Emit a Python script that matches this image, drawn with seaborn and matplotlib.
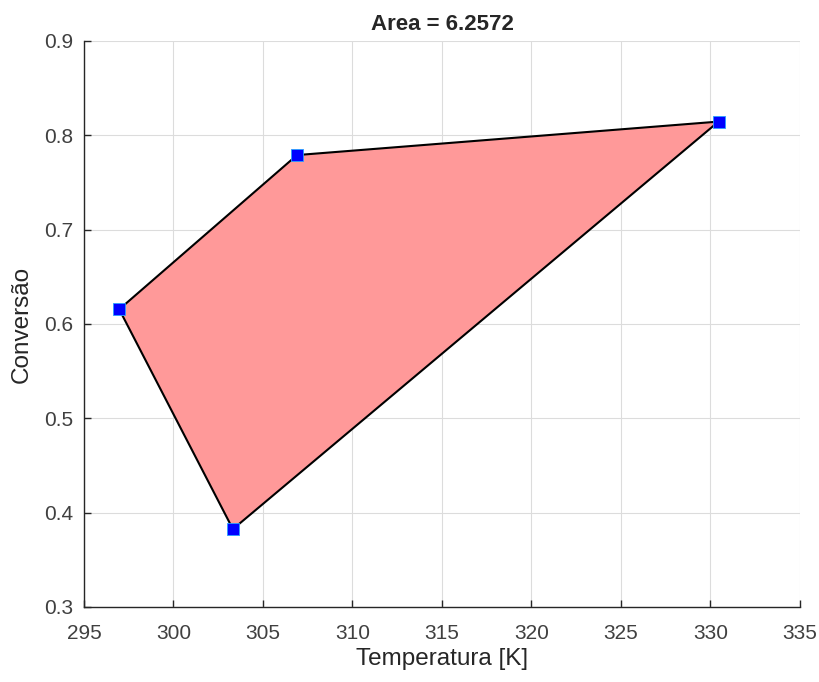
import numpy as np
import pandas as pd
import matplotlib
matplotlib.use('Agg')
import matplotlib.pyplot as plt
import seaborn as sns

# polygon vertices (Temperatura [K], Conversão)
temperatura = [296.97, 306.9, 330.45, 303.32]
conversao = [0.6155, 0.779, 0.8145, 0.3825]
area = 6.2572

xticks = list(range(295, 340, 5))
yticks = [0.3, 0.4, 0.5, 0.6, 0.7, 0.8, 0.9]

sns.set_style('white')
plt.rcParams['font.family'] = ['Liberation Sans', 'DejaVu Sans']

df = pd.DataFrame({'T': temperatura, 'X': conversao})

fig = plt.figure(figsize=(8.2, 6.82), dpi=100)
ax = fig.add_axes([0.1024, 0.110, 0.8732, 0.830])

# filled polygon with outline
ax.fill(df['T'], df['X'], facecolor=(1, 0.6, 0.6), edgecolor='black', linewidth=1.5, zorder=2)
sns.scatterplot(data=df, x='T', y='X', marker='s', s=70, color='#0000ff',
                edgecolor='#2aa0ff', linewidth=0.6, ax=ax, zorder=3)

ax.set_xlim(295, 335)
ax.set_ylim(0.3, 0.9)
ax.set_xticks(xticks)
ax.set_yticks(yticks)
ax.set_xticklabels([str(t) for t in xticks])
ax.set_yticklabels([f'{t:.1f}' for t in yticks])
ax.grid(True, color='#dcdcdc', linewidth=0.8, zorder=0)
ax.set_axisbelow(True)

for s in ['top', 'right']:
    ax.spines[s].set_visible(False)
for s in ['left', 'bottom']:
    ax.spines[s].set_color('#262626')
    ax.spines[s].set_linewidth(1.0)
ax.tick_params(direction='in', length=5, width=1, colors='#262626',
               labelsize=15, left=True, bottom=True)
ax.tick_params(axis='x', pad=12)
ax.tick_params(axis='y', pad=8)
for lab in ax.get_xticklabels() + ax.get_yticklabels():
    lab.set_color('#404040')

ax.set_xlabel('Temperatura [K]', fontsize=17.5, color='#262626', labelpad=4)
ax.set_ylabel('Conversão', fontsize=17.5, color='#262626', labelpad=8)
ax.set_title(f'Area = {area:.4f}', fontsize=16, fontweight='bold', pad=8)

fig.savefig('out.png', dpi=100)
